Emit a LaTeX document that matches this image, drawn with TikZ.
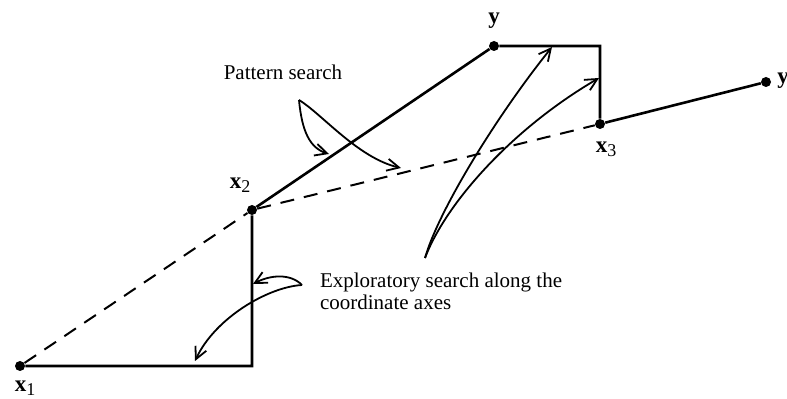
\documentclass[tikz,border=0pt]{standalone}
\usepackage{fontspec}
\setmainfont{Liberation Serif}
\usetikzlibrary{arrows.meta}
\newcommand{\ptlabel}[2]{\textbf{#1}\raisebox{-0.35ex}{\fontsize{9pt}{9pt}\selectfont #2}}
\begin{document}
\begin{tikzpicture}[x=0.5pt, y=-0.5pt, >={Straight Barb[length=6pt, width=6pt]},
    font=\fontsize{10.5pt}{11pt}\selectfont,
    dot/.style={circle, fill, inner sep=0pt, minimum size=5pt},
    lbl/.style={font=\fontsize{11.5pt}{12pt}\selectfont},
    path/.style={line width=1.3pt},
    trial/.style={line width=1pt, dash pattern=on 7pt off 5pt},
    hint/.style={->, line width=0.9pt}]
    \useasboundingbox (0,0) rectangle (787,399);

    \node[dot] (x1) at (20,366) {};
    \node[dot] (x2) at (252,210) {};
    \node[dot] (y1) at (494,46) {};
    \node[dot] (x3) at (600,124) {};
    \node[dot] (y2) at (766,82) {};
    \coordinate (c1) at (252,366);
    \coordinate (c2) at (600,46);

    \node[lbl] (lx1) at (25,388) {\ptlabel{x}{1}};
    \node[lbl] (lx2) at (240,185) {\ptlabel{x}{2}};
    \node[lbl] (ly1) at (494,21) {\textbf{y}};
    \node[lbl] (lx3) at (606,149) {\ptlabel{x}{3}};
    \node[lbl] (ly2) at (783,81) {\textbf{y}};

    \draw[path] (x1) -- (c1) -- (x2) -- (y1) -- (c2) -- (x3) -- (y2);
    \draw[trial] (x1) -- (x2) -- (x3);

    \node (pat) at (283,72) {Pattern search};
    \coordinate (pt) at (299,100);
    \draw[hint] (pt) .. controls (302,132) and (310,148) .. (329,154);
    \draw[hint] (pt) .. controls (322,114) and (358,158) .. (401,168);

    \node[align=left, anchor=west] (exp) at (313,291) {Exploratory search along the\\coordinate axes};
    \coordinate (et) at (302,285);
    \draw[hint] (et) .. controls (290,273) and (270,275) .. (253,284);
    \draw[hint] (et) .. controls (268,287) and (215,318) .. (195,361);
    \coordinate (eb) at (425,258);
    \draw[hint] (eb) .. controls (438,212) and (495,118) .. (552,47);
    \draw[hint] (eb) .. controls (445,205) and (510,130) .. (599,78);
\end{tikzpicture}
\end{document}
